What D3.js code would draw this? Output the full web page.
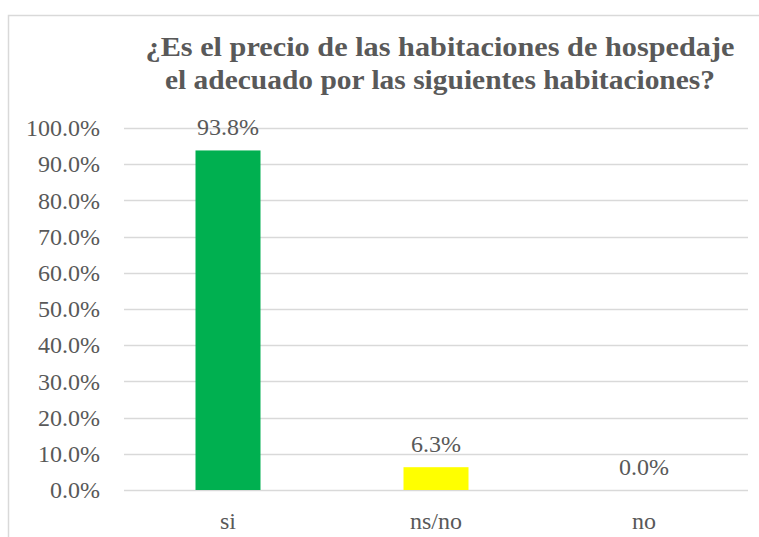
<!DOCTYPE html>
<html>
<head>
<meta charset="utf-8">
<script src="https://cdn.jsdelivr.net/npm/d3@7"></script>
<style>
    body { margin: 0; background: #fff; }
</style>
</head>
<body>
<div class="chart"></div>
<script>
const categories = ["si", "ns/no", "no"];
const values = [0.938, 0.063, 0.0];
const barColors = ["#00B050", "#FFFF00", "#FFC000"];
const yTicks = [0, 0.1, 0.2, 0.3, 0.4, 0.5, 0.6, 0.7, 0.8, 0.9, 1.0];
const titleLines = ["¿Es el precio de las habitaciones de hospedaje", "el adecuado por las siguientes habitaciones?"];

const serif = "Liberation Serif";
const textColor = "#595959";

function drawChart() {
    const w = 759;
    const h = 537;
    const margin = { top: 128, right: 11, bottom: 47, left: 124 };
    const chartWidth = w - margin.left - margin.right;
    const chartHeight = h - margin.top - margin.bottom;

    const svg = d3.select('.chart')
        .append('svg')
        .attr('width', w)
        .attr('height', h)
        .attr('font-family', serif);

    // chart frame
    svg.append('path')
        .attr('d', 'M8.5,' + h + 'V15.5H' + w)
        .attr('fill', 'none')
        .attr('stroke', '#d9d9d9')
        .attr('stroke-width', 1.5);

    // title
    const titleWidths = [589, 550];
    svg.selectAll('.title')
        .data(titleLines)
        .enter()
        .append('text')
        .attr('class', 'title')
        .attr('x', 440)
        .attr('y', (d, i) => 56 + i * 33)
        .attr('text-anchor', 'middle')
        .attr('textLength', (d, i) => titleWidths[i])
        .attr('lengthAdjust', 'spacingAndGlyphs')
        .attr('font-family', serif)
        .attr('font-size', 28)
        .attr('font-weight', 'bold')
        .attr('fill', textColor)
        .text(d => d);

    const g = svg.append('g')
        .attr('transform', 'translate(' + margin.left + ', ' + margin.top + ')');

    const yScale = d3.scaleLinear()
        .domain([0, 1])
        .range([chartHeight, 0]);

    const xScale = d3.scaleBand()
        .domain(categories)
        .range([0, chartWidth])
        .paddingInner(0.6875)
        .paddingOuter(0.34375);

    // gridlines
    g.selectAll('.grid')
        .data(yTicks)
        .enter()
        .append('line')
        .attr('class', 'grid')
        .attr('x1', 0)
        .attr('x2', chartWidth)
        .attr('y1', d => Math.round(yScale(d)) + 0.5)
        .attr('y2', d => Math.round(yScale(d)) + 0.5)
        .attr('stroke', '#d9d9d9')
        .attr('stroke-width', 1.5);

    const yAxis = d3.axisLeft(yScale)
        .tickValues(yTicks)
        .tickFormat(d3.format('.1%'))
        .tickSize(0)
        .tickPadding(24);

    g.append('g')
        .call(yAxis)
        .attr('font-family', serif)
        .attr('font-size', 24)
        .call(a => a.select('.domain').remove())
        .selectAll('text')
        .attr('font-family', serif)
        .attr('font-size', 24)
        .attr('fill', textColor);

    const xAxis = d3.axisBottom(xScale)
        .tickSize(0)
        .tickPadding(22);

    g.append('g')
        .attr('transform', 'translate(0,' + chartHeight + ')')
        .call(xAxis)
        .attr('font-family', serif)
        .attr('font-size', 24)
        .call(a => a.select('.domain').remove())
        .selectAll('text')
        .attr('font-family', serif)
        .attr('font-size', 24)
        .attr('fill', textColor);

    g.selectAll('.bar')
        .data(values)
        .enter()
        .append('rect')
        .attr('class', 'bar')
        .attr('x', (d, i) => xScale(categories[i]))
        .attr('y', d => yScale(d))
        .attr('width', xScale.bandwidth())
        .attr('height', d => chartHeight - yScale(d))
        .attr('fill', (d, i) => barColors[i]);

    g.selectAll('.label')
        .data(values)
        .enter()
        .append('text')
        .attr('class', 'label')
        .attr('x', (d, i) => xScale(categories[i]) + xScale.bandwidth() / 2)
        .attr('y', d => yScale(d) - 15)
        .attr('text-anchor', 'middle')
        .attr('font-family', serif)
        .attr('font-size', 24)
        .attr('fill', textColor)
        .text(d => d3.format('.1%')(d));
}

drawChart();
</script>
</body>
</html>
